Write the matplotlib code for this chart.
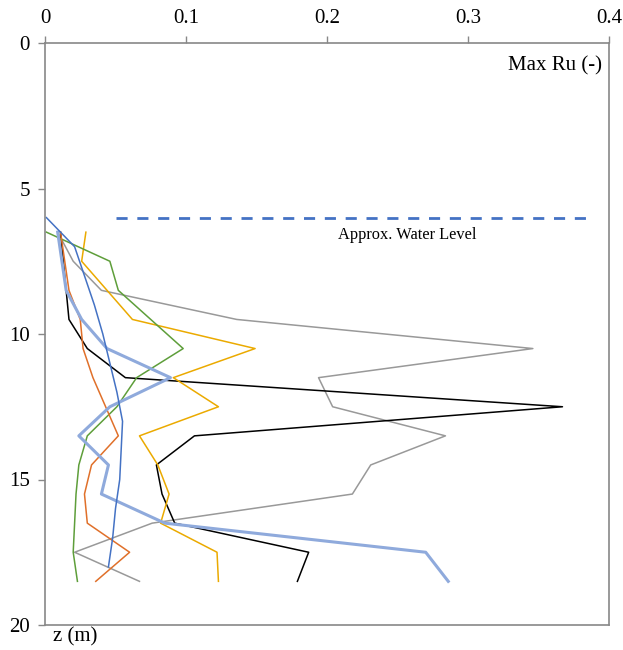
import matplotlib
matplotlib.use("Agg")
import matplotlib.pyplot as plt

depth = [6.5, 7.5, 8.5, 9.5, 10.5, 11.5, 12.5, 13.5, 14.5, 15.5, 16.5, 17.5, 18.5]
depth_blue = [6, 7, 8, 9, 10, 11, 12, 13, 14, 15, 16, 17, 18]

ru_gray = [0.009, 0.020, 0.040, 0.136, 0.346, 0.194, 0.204, 0.284, 0.231, 0.218, 0.076, 0.021, 0.067]
ru_black = [0.011, 0.013, 0.015, 0.017, 0.030, 0.057, 0.367, 0.106, 0.079, 0.083, 0.092, 0.187, 0.179]
ru_yellow = [0.029, 0.026, 0.044, 0.062, 0.149, 0.091, 0.123, 0.067, 0.080, 0.088, 0.082, 0.122, 0.123]
ru_green = [0.001, 0.046, 0.052, 0.075, 0.098, 0.065, 0.051, 0.030, 0.024, 0.022, 0.021, 0.020, 0.023]
ru_orange = [0.011, 0.014, 0.017, 0.025, 0.027, 0.034, 0.043, 0.052, 0.033, 0.028, 0.030, 0.060, 0.036]
ru_lightblue = [0.009, 0.012, 0.015, 0.026, 0.044, 0.089, 0.046, 0.024, 0.045, 0.040, 0.085, 0.270, 0.286]
ru_blue = [0.001, 0.021, 0.028, 0.035, 0.041, 0.046, 0.051, 0.055, 0.054, 0.053, 0.050, 0.048, 0.045]

water_level = 6.0
water_x = [0.05, 0.39]

x_ticks = [0, 0.1, 0.2, 0.3, 0.4]
x_ticklabels = ["0", "0.1", "0.2", "0.3", "0.4"]
y_ticks = [0, 5, 10, 15, 20]

plt.rcParams['font.family'] = ['Liberation Serif', 'DejaVu Serif']

fig = plt.figure(figsize=(6.23, 6.5), dpi=100)
W, H = 623, 650
ax = fig.add_axes([45 / W, 1 - 625 / H, (609 - 45) / W, (625 - 43) / H])

ax.plot(ru_gray, depth, color='#999999', lw=1.1)
ax.plot(ru_black, depth, color='black', lw=1.1)
ax.plot(ru_yellow, depth, color='#EBAA00', lw=1.1)
ax.plot(ru_green, depth, color='#5E9E3A', lw=1.1)
ax.plot(ru_orange, depth, color='#E0702A', lw=1.1)
ax.plot(ru_lightblue, depth, color='#8FAADC', lw=2.2)
ax.plot(ru_blue, depth_blue, color='#4472C4', lw=1.1)

ax.plot(water_x, [water_level, water_level], color='#4472C4', lw=2.0, dashes=(4, 3.5))
ax.text(0.257, water_level + 0.6, "Approx. Water Level", fontsize=11.8, ha='center', va='center')

ax.set_xlim(0, 0.4)
ax.set_ylim(20, 0)
ax.set_xticks(x_ticks)
ax.set_xticklabels(x_ticklabels)
ax.set_yticks(y_ticks)
ax.xaxis.tick_top()
ax.tick_params(axis='both', labelsize=15, color='#888888', length=5, width=1, pad=6)
for s in ax.spines.values():
    s.set_color('#888888')
    s.set_linewidth(1.2)

ax.text(0.395, 0.8, "Max Ru (-)", fontsize=15, ha='right', va='center')
fig.text(75 / W, 1 - 637 / H, "z (m)", fontsize=15, ha='center', va='center')

fig.savefig("out.png", dpi=100)
